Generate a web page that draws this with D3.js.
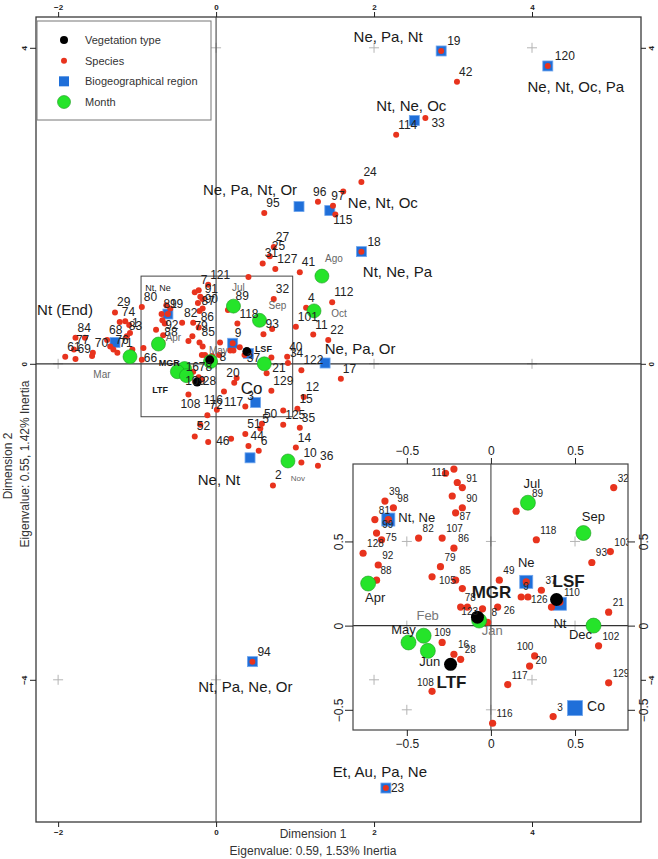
<!DOCTYPE html>
<html lang="en">
<head>
<meta charset="UTF-8" />
<title>Correspondence analysis map</title>
<style>
  body { margin: 0; background: #fff; }
  svg { display: block; font-family: "Liberation Sans", Arial, sans-serif; }
</style>
<script src="https://cdn.jsdelivr.net/npm/d3@7/dist/d3.min.js"></script>
</head>
<body>
<svg width="658" height="859"></svg>
<script>
// ---- data: [label, dimension 1, dimension 2] ----
var species = [
  ['19', 2.85, 3.96], ['42', 3.05, 3.57], ['120', 4.20, 3.77], ['33', 2.65, 3.11],
  ['114', 2.28, 2.90], ['24', 1.84, 2.30], ['96', 1.29, 2.05], ['97', 1.61, 2.18],
  ['115', 1.51, 1.89], ['', 1.48, 2.00], ['95', 0.61, 1.91], ['18', 1.84, 1.42],
  ['27', 0.73, 1.48], ['25', 0.68, 1.36], ['31', 0.59, 1.27], ['127', 0.75, 1.20],
  ['41', 1.06, 1.16], ['', 0.41, 1.10], ['121', -0.10, 1.00], ['112', 1.47, 0.78],
  ['4', 1.14, 0.71], ['101', 1.01, 0.47], ['11', 1.23, 0.37], ['22', 1.42, 0.30],
  ['40', 0.90, 0.09], ['34', 0.91, 0.01], ['122', 1.08, -0.08], ['17', 1.58, -0.19],
  ['12', 1.11, -0.42], ['15', 1.03, -0.57], ['', 0.85, -0.59], ['50', 0.58, -0.76],
  ['125', 0.85, -0.77], ['35', 1.06, -0.81], ['14', 1.01, -1.06], ['10', 1.08, -1.25],
  ['36', 1.29, -1.29], ['2', 0.72, -1.54], ['51', 0.37, -0.89], ['5', 0.56, -0.82],
  ['6', 0.54, -1.10], ['', 0.19, -0.95], ['52', -0.27, -0.92], ['', -0.20, -0.77],
  ['46', -0.10, -0.99], ['44', 0.41, -1.04], ['72', -0.11, -0.65],
  ['66', -0.94, 0.05], ['1', -1.09, 0.39], ['29', -1.28, 0.65], ['74', -1.22, 0.53],
  ['80', -0.94, 0.72], ['84', -1.78, 0.33], ['77', -1.80, 0.18], ['68', -1.38, 0.30],
  ['76', -1.30, 0.18], ['83', -1.13, 0.35], ['70', -1.56, 0.14], ['71', -1.25, 0.14],
  ['61', -1.91, 0.09], ['69', -1.78, 0.06], ['', -1.66, 0.33], ['', -1.34, 0.22],
  ['', -1.06, 0.18], ['', -0.92, 0.20], ['', -1.10, 0.49], ['', -1.15, 0.54],
  ['', -1.57, 0.10], ['94', 0.46, -3.77], ['23', 2.15, -5.37],
  // central cluster
  ['7', -0.22, 0.93], ['111', -0.27, 0.905], ['91', -0.17, 0.82], ['', -0.20, 0.85],
  ['', -0.23, 0.77], ['90', -0.17, 0.70], ['87', -0.21, 0.67], ['39', -0.63, 0.74],
  ['98', -0.58, 0.70], ['81', -0.69, 0.63], ['99', -0.61, 0.63], ['75', -0.65, 0.51],
  ['', -0.68, 0.55], ['128', -0.76, 0.43], ['82', -0.43, 0.52], ['107', -0.29, 0.52],
  ['86', -0.22, 0.46], ['89', 0.22, 0.73], ['', 0.15, 0.68], ['32', 0.73, 0.82],
  ['118', 0.27, 0.51], ['103', 0.71, 0.44], ['93', 0.60, 0.375], ['92', -0.67, 0.36],
  ['88', -0.68, 0.27], ['79', -0.30, 0.35], ['85', -0.21, 0.27], ['105', -0.35, 0.29],
  ['', -0.17, 0.22], ['78', -0.18, 0.11], ['123', -0.14, 0.11], ['', -0.05, 0.10],
  ['8', -0.02, 0.02], ['26', 0.04, 0.11], ['49', 0.05, 0.27], ['9', 0.21, 0.26],
  ['', 0.18, 0.17], ['126', 0.22, 0.17], ['37', 0.30, 0.21], ['110', 0.41, 0.14],
  ['', 0.36, 0.11], ['21', 0.70, 0.08], ['102', 0.64, -0.12], ['109', -0.29, -0.10],
  ['16', -0.22, -0.17], ['28', -0.18, -0.20], ['108', -0.35, -0.39], ['100', 0.26, -0.18],
  ['20', 0.23, -0.24], ['117', 0.10, -0.35], ['129', 0.70, -0.34], ['116', 0.01, -0.58],
  ['3', 0.37, -0.54]
]

var regions = [
  ['Ne, Pa, Nt, Or', 1.05, 1.99], ['Ne, Nt, Oc', 1.44, 1.94], ['Ne, Pa, Nt', 2.85, 3.96],
  ['Ne, Nt, Oc, Pa', 4.20, 3.77], ['Nt, Ne, Oc', 2.51, 3.08], ['Nt, Ne, Pa', 1.84, 1.42],
  ['Ne, Pa, Or', 1.38, 0.01], ['Nt (End)', -1.28, 0.27], ['Nt, Ne', -0.61, 0.63],
  ['Ne', 0.21, 0.26], ['Nt', 0.41, 0.13], ['Co', 0.50, -0.49], ['Ne, Nt', 0.43, -1.19],
  ['Nt, Pa, Ne, Or', 0.46, -3.77], ['Et, Au, Pa, Ne', 2.15, -5.37]
]

var months = [
  ['Jan', -0.07, 0.03], ['Feb', -0.40, -0.06], ['Mar', -1.09, 0.09], ['Apr', -0.73, 0.25],
  ['May', -0.49, -0.10], ['Jun', -0.375, -0.15], ['Jul', 0.22, 0.73], ['Ago', 1.34, 1.11],
  ['Sep', 0.55, 0.55], ['Oct', 1.24, 0.67], ['Nov', 0.91, -1.23], ['Dec', 0.61, 0.00]
]

var vegetation = [['LSF', 0.39, 0.155], ['MGR', -0.08, 0.05], ['LTF', -0.24, -0.23]]

var mainXTicks = [-2, 0, 2, 4]
var mainYTicks = [-4, 0, 4]
var insetTicks = [-0.5, 0, 0.5]
var zoomWindow = [[-0.95, 0.97], [-0.67, 1.11]]

var legendItems = ['Vegetation type', 'Species', 'Biogeographical region', 'Month']

// ---- look ----
var RED = '#e8331d', BLUE = '#1f6fd9', GREEN = '#25e42a'

// label layout: name -> [dx, dy, anchor, font size, colour]
var mainRegionText = {
  'Ne, Pa, Nt, Or': [-49, -12, 'middle', 15], 'Ne, Nt, Oc': [18, -3, 'start', 15],
  'Ne, Pa, Nt': [-53, -9, 'middle', 15], 'Ne, Nt, Oc, Pa': [28, 26, 'middle', 15],
  'Nt, Ne, Oc': [-3, -9, 'middle', 15], 'Nt, Ne, Pa': [36, 25, 'middle', 15],
  'Ne, Pa, Or': [35, -9, 'middle', 15], 'Nt (End)': [-50, -27, 'middle', 15],
  'Nt, Ne': [-10, -23, 'middle', 9], 'Co': [-4, -9, 'middle', 17],
  'Ne, Nt': [-31, 27, 'middle', 15], 'Nt, Pa, Ne, Or': [-7, 30, 'middle', 15],
  'Et, Au, Pa, Ne': [-6, -11, 'middle', 15]
}
var insetRegionText = {
  'Nt, Ne': [10, 2, 'start', 13], 'Ne': [0, -15, 'middle', 13],
  'Nt': [0, 24, 'middle', 13], 'Co': [12, 3, 'start', 14]
}
var mainMonthText = {
  'Ago': [12, -14, 'middle', 10, '#666'], 'Oct': [25, 6, 'middle', 10, '#666'],
  'Sep': [18, -11, 'middle', 10, '#666'], 'Jul': [5, -15, 'middle', 10, '#666'],
  'Mar': [-28, 21, 'middle', 10, '#666'], 'Apr': [15, -3, 'middle', 10, '#666'],
  'May': [41, -18, 'middle', 10, '#666'], 'Nov': [10, 20, 'middle', 8, '#666']
}
var insetMonthText = {
  'Jul': [4, -15, 'middle', 13], 'Sep': [10, -12, 'middle', 13], 'Apr': [7, 18, 'middle', 13],
  'Dec': [-13, 13, 'middle', 13], 'May': [-5, -8, 'middle', 13], 'Jun': [2, 15, 'middle', 13],
  'Feb': [4, -16, 'middle', 13, '#777'], 'Jan': [13, 14, 'middle', 13, '#777']
}
var mainVegText = { 'LSF': [8, 0, 'start', 9], 'MGR': [-30, 6, 'end', 9], 'LTF': [-29, 11, 'end', 9] }
var insetVegText = { 'LSF': [-4, -13, 'start', 17], 'MGR': [14, -19, 'middle', 17], 'LTF': [1, 24, 'middle', 17] }

var mainSpeciesShift = {
  '19': [6, -6], '120': [7, -6], '18': [6, -6], '94': [5, -6], '23': [5, 4],
  '33': [6, 9], '115': [-2, 10], '96': [-5, -6], '97': [-12, 8],
  '66': [2, 2], '116': [-13, -6], '117': [0, 15], '20': [-8, -6], '37': [7, 15],
  '8': [5, -1], '21': [1, 15], '16': [-13, -6], '109': [-8, 13], '28': [1, 5],
  '78': [-3, 16], '108': [-8, 13], '46': [8, 3]
}
var mainSpeciesHidden = ['39', '98', '75', '128', '107', '105', '123', '49', '26', '126',
  '110', '103', '102', '100', '111']
var insetSpeciesShift = {
  '108': [-15, -5], '26': [6, 7], '105': [7, 7], '126': [3, 6], '87': [4, 7], '75': [4, 1],
  '109': [-8, -6], '100': [-18, -6], '20': [6, -2], '123': [-6, 8], '9': [-3, 8], '99': [-6, 8],
  '111': [-14, 3]
}
var insetSpeciesHidden = ['72']

var svg = d3.select('svg')

var mainX = d3.scaleLinear().domain([-2.28, 5.38]).range([36, 641])
var mainY = d3.scaleLinear().domain([-5.80, 4.39]).range([822, 17])
var insetX = d3.scaleLinear().domain([-0.82, 0.815]).range([353, 628])
var insetY = d3.scaleLinear().domain([-0.62, 0.96]).range([730, 464])

function frame(sx, sy) {
  return { x: sx.range()[0], y: sy.range()[1], w: sx.range()[1] - sx.range()[0], h: sy.range()[0] - sy.range()[1] }
}

function labelRows(g, rows, sx, sy, layout, weight) {
  g.selectAll(null)
    .data(rows.filter(function(d) { return layout[d[0]] }))
    .join('text')
    .attr('x', function(d) { return sx(d[1]) + layout[d[0]][0] })
    .attr('y', function(d) { return sy(d[2]) + layout[d[0]][1] })
    .attr('text-anchor', function(d) { return layout[d[0]][2] })
    .attr('font-size', function(d) { return layout[d[0]][3] })
    .attr('fill', function(d) { return layout[d[0]][4] || '#1a1a1a' })
    .attr('font-weight', weight)
    .text(function(d) { return d[0] })
}

function drawPanel(g, sx, sy, look) {
  var f = frame(sx, sy)

  g.selectAll(null)
    .data(d3.cross(look.crossX, look.crossY))
    .join('path')
    .attr('transform', function(d) { return 'translate(' + sx(d[0]) + ',' + sy(d[1]) + ')' })
    .attr('d', 'M-5,0H5M0,-5V5')
    .attr('stroke', '#b4b4b4')
    .attr('fill', 'none')

  g.append('line')
    .attr('x1', sx(0)).attr('x2', sx(0)).attr('y1', f.y).attr('y2', f.y + f.h)
    .attr('stroke', '#555').attr('stroke-width', 1.2)
  g.append('line')
    .attr('x1', f.x).attr('x2', f.x + f.w).attr('y1', sy(0)).attr('y2', sy(0))
    .attr('stroke', '#333').attr('stroke-width', 1.2)

  if (look.window) {
    g.append('rect')
      .attr('x', sx(zoomWindow[0][0])).attr('y', sy(zoomWindow[1][1]))
      .attr('width', sx(zoomWindow[0][1]) - sx(zoomWindow[0][0]))
      .attr('height', sy(zoomWindow[1][0]) - sy(zoomWindow[1][1]))
      .attr('fill', 'none').attr('stroke', '#444').attr('stroke-width', 1)
  }

  // biogeographical regions
  g.selectAll(null)
    .data(regions)
    .join('rect')
    .attr('x', function(d) { var s = d[0] === 'Co' ? look.sqCo : look.sq; return sx(d[1]) - s / 2 })
    .attr('y', function(d) { var s = d[0] === 'Co' ? look.sqCo : look.sq; return sy(d[2]) - s / 2 })
    .attr('width', function(d) { return d[0] === 'Co' ? look.sqCo : look.sq })
    .attr('height', function(d) { return d[0] === 'Co' ? look.sqCo : look.sq })
    .attr('fill', BLUE)
    .attr('stroke', '#6fa6ee')
    .attr('stroke-width', 0.8)

  // species
  g.selectAll(null)
    .data(species)
    .join('circle')
    .attr('cx', function(d) { return sx(d[1]) })
    .attr('cy', function(d) { return sy(d[2]) })
    .attr('r', look.rSp)
    .attr('fill', RED)

  // months
  g.selectAll(null)
    .data(months)
    .join('circle')
    .attr('cx', function(d) { return sx(d[1]) })
    .attr('cy', function(d) { return sy(d[2]) })
    .attr('r', look.rMonth)
    .attr('fill', GREEN)
    .attr('stroke', '#1c9b22')
    .attr('stroke-width', 0.6)

  // vegetation types
  g.selectAll(null)
    .data(vegetation)
    .join('circle')
    .attr('cx', function(d) { return sx(d[1]) })
    .attr('cy', function(d) { return sy(d[2]) })
    .attr('r', look.rVeg)
    .attr('fill', '#000')

  // species numbers
  g.selectAll(null)
    .data(species.filter(function(d) { return d[0] !== '' && look.hidden.indexOf(d[0]) < 0 }))
    .join('text')
    .attr('x', function(d) { return sx(d[1]) + (look.shift[d[0]] || look.offset)[0] })
    .attr('y', function(d) { return sy(d[2]) + (look.shift[d[0]] || look.offset)[1] })
    .attr('font-size', look.spSize)
    .attr('fill', '#222')
    .text(function(d) { return d[0] })

  labelRows(g, regions, sx, sy, look.regionText, 'normal')
  labelRows(g, months, sx, sy, look.monthText, 'normal')
  labelRows(g, vegetation, sx, sy, look.vegText, 'bold')
}

// ---- main map ----
var mf = frame(mainX, mainY)
var mainG = svg.append('g')
drawPanel(mainG, mainX, mainY, {
  crossX: mainXTicks, crossY: mainYTicks, window: true,
  sq: 10, sqCo: 10, rSp: 3, rMonth: 7, rVeg: 4.5,
  offset: [2, -6], shift: mainSpeciesShift, hidden: mainSpeciesHidden, spSize: 12,
  regionText: mainRegionText, monthText: mainMonthText, vegText: mainVegText
})
svg.append('rect')
  .attr('x', mf.x).attr('y', mf.y).attr('width', mf.w).attr('height', mf.h)
  .attr('fill', 'none').attr('stroke', '#3a3a3a').attr('stroke-width', 1.3)

function styleAxis(sel, size, weight) {
  sel.select('.domain').remove()
  sel.selectAll('.tick line').attr('stroke', '#222')
  sel.selectAll('.tick text')
    .attr('font-size', size).attr('font-weight', weight).attr('fill', '#222')
    .attr('font-family', '"Liberation Sans", Arial, sans-serif')
}
function rotateLabels(sel, offset) {
  sel.selectAll('.tick text')
    .attr('transform', 'rotate(-90)')
    .attr('x', 0).attr('y', offset).attr('dy', 0)
    .attr('text-anchor', 'middle')
}

svg.append('g').attr('transform', 'translate(0,' + mf.y + ')')
  .call(d3.axisTop(mainX).tickValues(mainXTicks).tickSize(5).tickPadding(2))
  .call(styleAxis, 8, 'bold')
svg.append('g').attr('transform', 'translate(0,' + (mf.y + mf.h) + ')')
  .call(d3.axisBottom(mainX).tickValues(mainXTicks).tickSize(5).tickPadding(2))
  .call(styleAxis, 8, 'bold')
svg.append('g').attr('transform', 'translate(' + mf.x + ',0)')
  .call(d3.axisLeft(mainY).tickValues(mainYTicks).tickSize(6))
  .call(styleAxis, 8, 'bold')
  .call(rotateLabels, -9)
svg.append('g').attr('transform', 'translate(' + (mf.x + mf.w) + ',0)')
  .call(d3.axisRight(mainY).tickValues(mainYTicks).tickSize(5))
  .call(styleAxis, 8, 'bold')
  .call(rotateLabels, 13)

// axis titles
svg.append('text').attr('x', 313).attr('y', 838).attr('text-anchor', 'middle')
  .attr('font-size', 12).attr('fill', '#333').text('Dimension 1')
svg.append('text').attr('x', 313).attr('y', 855).attr('text-anchor', 'middle')
  .attr('font-size', 12).attr('fill', '#333').text('Eigenvalue: 0.59, 1.53% Inertia')
svg.append('text').attr('transform', 'translate(12,466) rotate(-90)').attr('text-anchor', 'middle')
  .attr('font-size', 12).attr('fill', '#333').text('Dimension 2')
svg.append('text').attr('transform', 'translate(29,464) rotate(-90)').attr('text-anchor', 'middle')
  .attr('font-size', 12).attr('fill', '#333').text('Eigenvalue: 0.55, 1.42% Inertia')

// ---- zoomed panel ----
var inf = frame(insetX, insetY)
svg.append('clipPath').attr('id', 'insetClip')
  .append('rect').attr('x', inf.x).attr('y', inf.y).attr('width', inf.w).attr('height', inf.h)
var insetG = svg.append('g').attr('clip-path', 'url(#insetClip)')
drawPanel(insetG, insetX, insetY, {
  crossX: insetTicks, crossY: insetTicks, window: false,
  sq: 13, sqCo: 15, rSp: 3.6, rMonth: 7.5, rVeg: 6.5,
  offset: [4, -6], shift: insetSpeciesShift, hidden: insetSpeciesHidden, spSize: 10,
  regionText: insetRegionText, monthText: insetMonthText, vegText: insetVegText
})
svg.append('rect')
  .attr('x', inf.x).attr('y', inf.y).attr('width', inf.w).attr('height', inf.h)
  .attr('fill', 'none').attr('stroke', '#444').attr('stroke-width', 1.2)

svg.append('g').attr('transform', 'translate(0,' + inf.y + ')')
  .call(d3.axisTop(insetX).tickValues(insetTicks).tickSize(6).tickPadding(3).tickFormat(d3.format('')))
  .call(styleAxis, 12, 'normal')
svg.append('g').attr('transform', 'translate(0,' + (inf.y + inf.h) + ')')
  .call(d3.axisBottom(insetX).tickValues(insetTicks).tickSize(6).tickPadding(3).tickFormat(d3.format('')))
  .call(styleAxis, 12, 'normal')
svg.append('g').attr('transform', 'translate(' + inf.x + ',0)')
  .call(d3.axisLeft(insetY).tickValues(insetTicks).tickSize(8).tickFormat(d3.format('')))
  .call(styleAxis, 12, 'normal')
  .call(rotateLabels, -10)
svg.append('g').attr('transform', 'translate(' + (inf.x + inf.w) + ',0)')
  .call(d3.axisRight(insetY).tickValues(insetTicks).tickSize(7).tickFormat(d3.format('')))
  .call(styleAxis, 12, 'normal')
  .call(rotateLabels, 20)

// ---- legend ----
var legend = svg.append('g')
legend.append('rect').attr('x', 37).attr('y', 21).attr('width', 174).attr('height', 99)
  .attr('fill', '#fff').attr('stroke', '#777').attr('stroke-width', 1)
var legendRow = d3.scalePoint().domain(legendItems).range([40, 102])
var lg = legend.selectAll(null).data(legendItems).join('g')
  .attr('transform', function(d) { return 'translate(64,' + legendRow(d) + ')' })
lg.filter(function(d, i) { return i === 0 }).append('circle').attr('r', 4).attr('fill', '#000')
lg.filter(function(d, i) { return i === 1 }).append('circle').attr('r', 3).attr('fill', RED)
lg.filter(function(d, i) { return i === 2 }).append('rect')
  .attr('x', -5).attr('y', -5).attr('width', 10).attr('height', 10).attr('fill', BLUE)
lg.filter(function(d, i) { return i === 3 }).append('circle').attr('r', 6.5)
  .attr('fill', GREEN).attr('stroke', '#1c9b22').attr('stroke-width', 0.6)
lg.append('text').attr('x', 21).attr('y', 4).attr('font-size', 11).attr('fill', '#333')
  .text(function(d) { return d })
</script>
</body>
</html>
